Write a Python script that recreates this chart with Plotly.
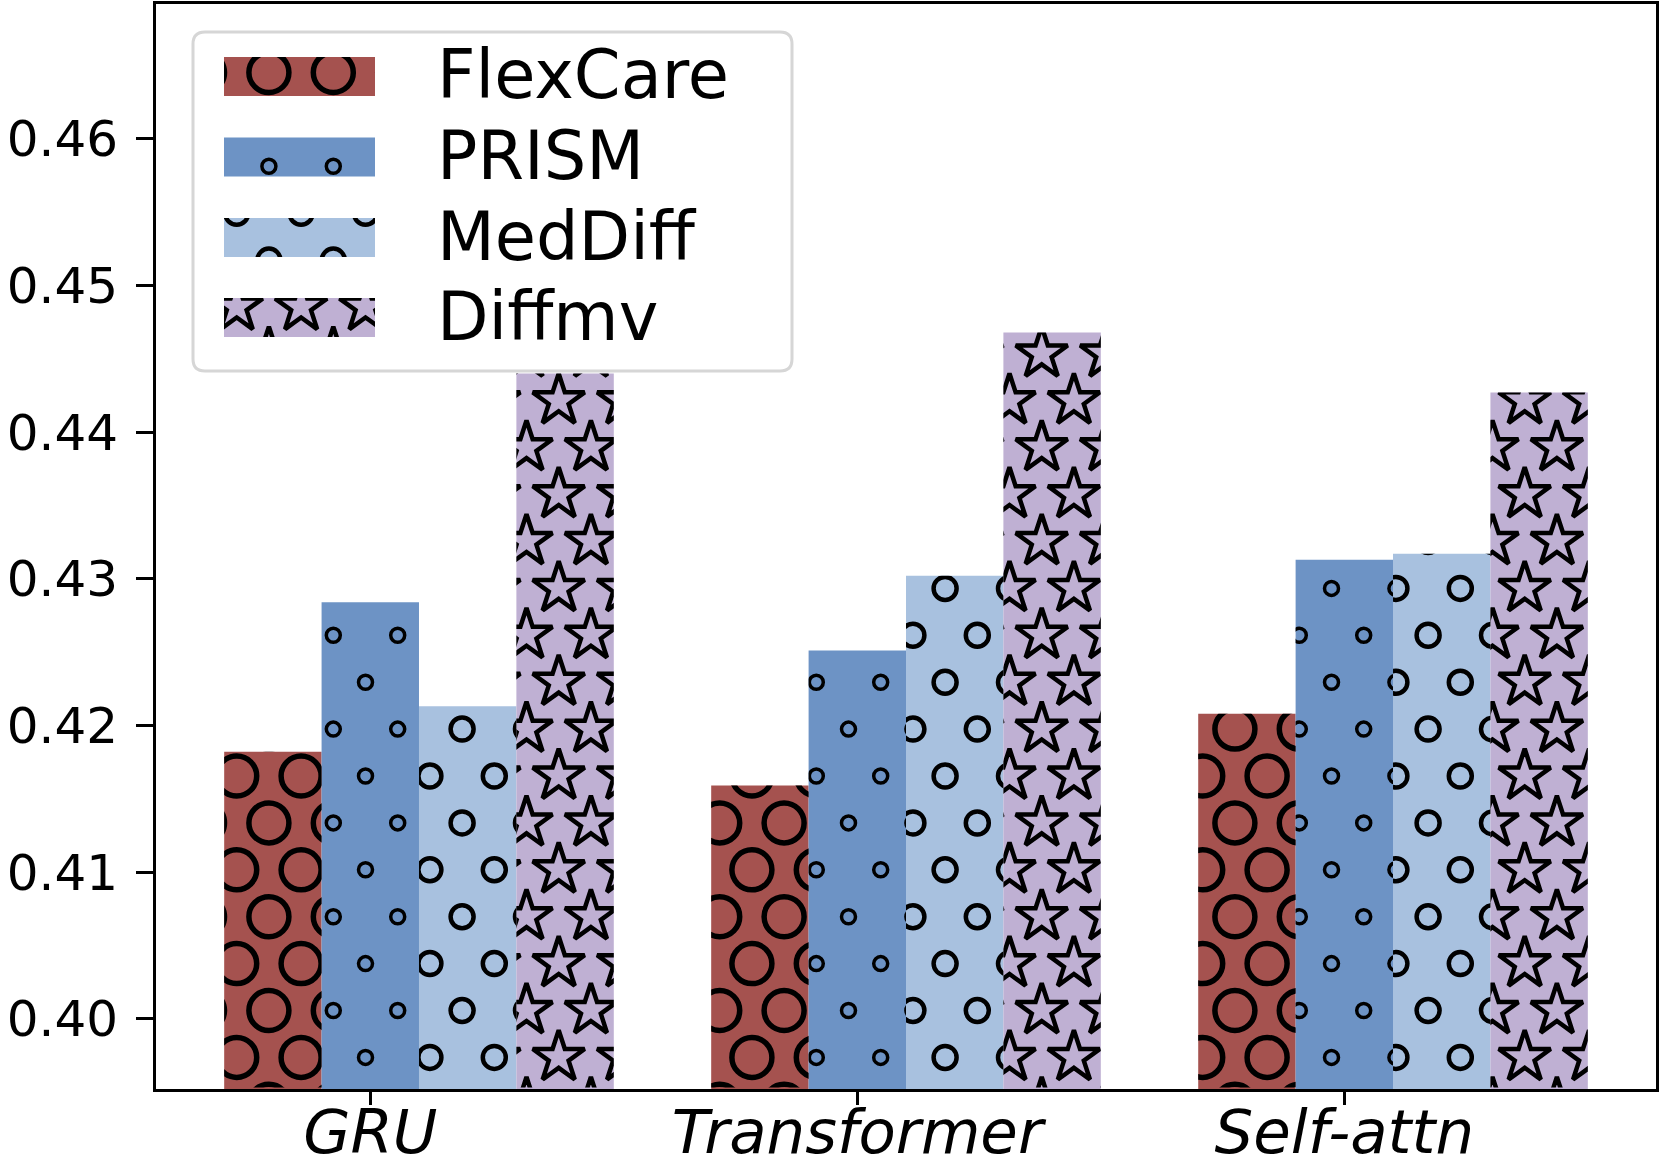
import math
import plotly.graph_objects as go

# ---------------- data ----------------
categories = ["GRU", "Transformer", "Self-attn"]
series_names = ["FlexCare", "PRISM", "MedDiff", "Diffmv"]
flexcare = [0.4182, 0.4159, 0.4208]
prism = [0.4284, 0.4251, 0.4313]
meddiff = [0.4213, 0.4302, 0.4317]
diffmv = [0.4440, 0.4468, 0.4427]
y_ticks = [0.40, 0.41, 0.42, 0.43, 0.44, 0.45, 0.46]

series_values = [flexcare, prism, meddiff, diffmv]

# ---------------- styles ----------------
colors = ["#a5524f", "#6d93c5", "#a8c1df", "#bfb0d3"]
hatches = [
    dict(symbol="circle-open", size=40, width=5.5),
    dict(symbol="circle-open", size=14, width=3.5),
    dict(symbol="circle-open", size=23, width=4.5),
    dict(symbol="star-open", size=39, width=4.5),
]
FONT = "DejaVu Sans"

W, H = 1661, 1163
ML, MR, MT, MB = 156, 5, 4, 74
PW = W - ML - MR
PH = H - MT - MB
XR = [-0.44, 2.64]
YR = [0.3952, 0.4692]
BW = 0.2


def px_x(v):
    return ML + (v - XR[0]) / (XR[1] - XR[0]) * PW


def px_y(v):
    return MT + (YR[1] - v) / (YR[1] - YR[0]) * PH


def paper_x(p):
    return (p - ML) / PW


def paper_y(p):
    return (H - MB - p) / PH


# global hatch lattice (pixel space)
LAT_X0, LAT_DX = 236.7, 64.4
LAT_Y0, LAT_DY = 776.0, 46.9


def lattice(x0, x1, y0, y1, pad):
    xs, ys = [], []
    kmin = math.floor((y0 - pad - LAT_Y0) / LAT_DY)
    kmax = math.ceil((y1 + pad - LAT_Y0) / LAT_DY)
    for k in range(kmin, kmax + 1):
        yy = LAT_Y0 + k * LAT_DY
        xoff = LAT_X0 + (LAT_DX / 2 if k % 2 else 0)
        mmin = math.floor((x0 - pad - xoff) / LAT_DX)
        mmax = math.ceil((x1 + pad - xoff) / LAT_DX)
        for m in range(mmin, mmax + 1):
            xx = xoff + m * LAT_DX
            if x0 - pad <= xx <= x1 + pad and y0 - pad <= yy <= y1 + pad:
                xs.append(xx)
                ys.append(yy)
    return xs, ys


fig = go.Figure()
x_idx = list(range(len(categories)))

for s, (name, vals) in enumerate(zip(series_names, series_values)):
    fig.add_trace(go.Bar(
        x=x_idx, y=vals, name=name, width=BW, offset=(s - 1.5) * BW,
        marker=dict(color=colors[s], line=dict(width=0)),
        showlegend=False,
    ))

extra_axes = {}
n_ax = [2]


def add_hatch_region(x0, x1, y0, y1, s):
    n = n_ax[0]
    n_ax[0] += 1
    h = hatches[s]
    xs, ys = lattice(x0, x1, y0, y1, h["size"])
    extra_axes[f"xaxis{n}"] = dict(domain=[paper_x(x0), paper_x(x1)], range=[x0, x1],
                                   visible=False, anchor=f"y{n}", fixedrange=True)
    extra_axes[f"yaxis{n}"] = dict(domain=[paper_y(y1), paper_y(y0)], range=[y1, y0],
                                   visible=False, anchor=f"x{n}", fixedrange=True)
    fig.add_trace(go.Scatter(
        x=xs, y=ys, mode="markers", xaxis=f"x{n}", yaxis=f"y{n}",
        marker=dict(symbol=h["symbol"], size=h["size"], color="black",
                    line=dict(width=h["width"], color="black")),
        hoverinfo="skip", showlegend=False,
    ))


# hatches on bars
for s, vals in enumerate(series_values):
    for i, v in enumerate(vals):
        left = i + (s - 1.5) * BW
        add_hatch_region(px_x(left), px_x(left + BW), px_y(v), H - MB - 1.5, s)

# ---------------- custom legend ----------------
LEG_BOX = (193, 792, 32, 371)
SW_X = (224, 375)
SW_H = 39
ROW_Y = [76.5, 157.0, 237.5, 317.5]
TEXT_X = 435


def rounded_path(x0, x1, y0, y1, r):
    a, b = paper_x(x0), paper_x(x1)
    c, d = paper_y(y1), paper_y(y0)
    rx, ry = r / PW, r / PH
    return (f"M{a+rx},{c} L{b-rx},{c} Q{b},{c} {b},{c+ry} L{b},{d-ry} Q{b},{d} {b-rx},{d} "
            f"L{a+rx},{d} Q{a},{d} {a},{d-ry} L{a},{c+ry} Q{a},{c} {a+rx},{c} Z")


shapes = [dict(type="path", xref="paper", yref="paper",
               path=rounded_path(*LEG_BOX, 12), fillcolor="white",
               line=dict(color="#d6d6d6", width=3), layer="below")]

annotations = []
for s, name in enumerate(series_names):
    yc = ROW_Y[s]
    y0, y1 = yc - SW_H / 2, yc + SW_H / 2
    shapes.append(dict(type="rect", xref="paper", yref="paper",
                       x0=paper_x(SW_X[0]), x1=paper_x(SW_X[1]),
                       y0=paper_y(y1), y1=paper_y(y0),
                       fillcolor=colors[s], line=dict(width=0), layer="below"))
    add_hatch_region(SW_X[0], SW_X[1], y0, y1, s)
    annotations.append(dict(text=name, xref="paper", yref="paper",
                            x=paper_x(TEXT_X), y=paper_y(yc - 1),
                            xanchor="left", yanchor="middle", showarrow=False,
                            font=dict(family=FONT, size=67, color="black")))

fig.update_layout(
    width=W, height=H,
    margin=dict(l=ML, r=MR, t=MT, b=MB, autoexpand=False),
    paper_bgcolor="white", plot_bgcolor="rgba(0,0,0,0)",
    barmode="overlay", showlegend=False,
    shapes=shapes, annotations=annotations,
    font=dict(family=FONT, color="black"),
    xaxis=dict(range=XR, tickvals=x_idx, ticktext=categories,
               showline=True, mirror=True, linewidth=3, linecolor="black",
               ticks="outside", ticklen=13, tickwidth=3, tickcolor="black",
               tickfont=dict(family=FONT, size=61, style="italic", color="black"),
               ticklabelstandoff=-25,
               showgrid=False, zeroline=False, automargin=False, fixedrange=True),
    yaxis=dict(range=YR, tickvals=y_ticks, tickformat=".2f",
               showline=True, mirror=True, linewidth=3, linecolor="black",
               ticks="outside", ticklen=17, tickwidth=3, tickcolor="black",
               tickfont=dict(family=FONT, size=50, color="black"),
               ticklabelstandoff=8,
               showgrid=False, zeroline=False, automargin=False, fixedrange=True),
    **extra_axes,
)

fig.write_html("out.html", config={"displayModeBar": False},
               post_script="document.body.style.margin='0';document.body.style.overflow='hidden';")
